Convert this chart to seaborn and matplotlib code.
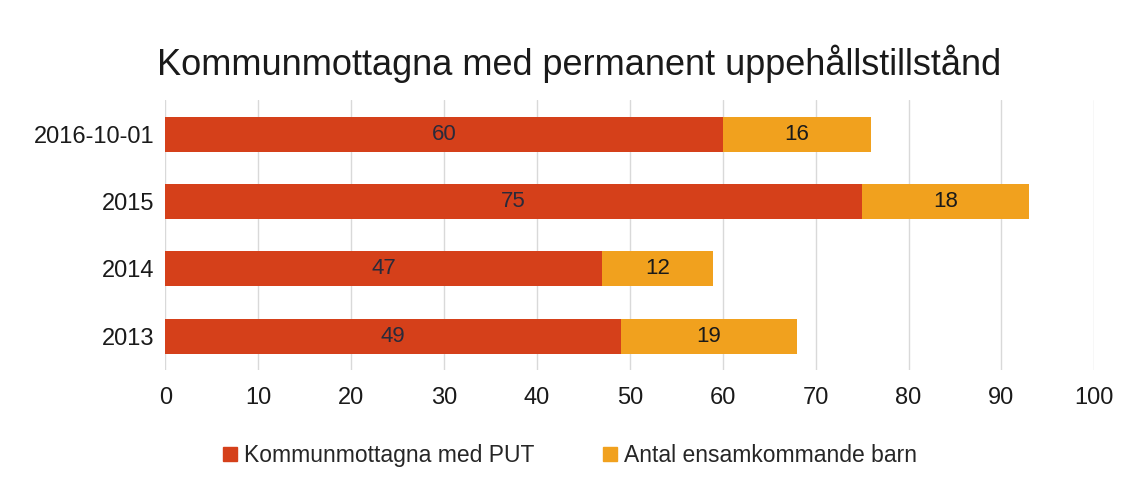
import pandas as pd
import numpy as np
import matplotlib
matplotlib.use('Agg')
import matplotlib.pyplot as plt
import seaborn as sns
from matplotlib.patches import Patch

years = ['2016-10-01', '2015', '2014', '2013']
put = [60, 75, 47, 49]
ensam = [16, 18, 12, 19]

red = '#D5401A'
orange = '#F1A11E'

df = pd.DataFrame({'year': years, 'put': put, 'ensam': ensam})
df['total'] = df['put'] + df['ensam']

sns.set_style('white')
plt.rcParams['font.family'] = ['Liberation Sans', 'DejaVu Sans']

fig = plt.figure(figsize=(11.4, 4.9), dpi=100)
ax = fig.add_axes([0.145, 0.245, 0.815, 0.55])

# stacked: total in orange, first series drawn on top in red
sns.barplot(data=df, x='total', y='year', orient='h', color=orange, width=0.52,
            saturation=1, linewidth=0, ax=ax, zorder=2)
sns.barplot(data=df, x='put', y='year', orient='h', color=red, width=0.52,
            saturation=1, linewidth=0, ax=ax, zorder=3)

for i, row in df.iterrows():
    ax.text(row['put'] / 2, i, str(row['put']), ha='center', va='center',
            fontsize=16, color='#2a2a3a', zorder=4)
    ax.text(row['put'] + row['ensam'] / 2, i, str(row['ensam']), ha='center',
            va='center', fontsize=16, color='#1a1a1a', zorder=4)

ax.set_xlim(0, 100)
ax.set_xticks(range(0, 101, 10))
ax.grid(axis='x', color='#d9d9d9', linewidth=1, zorder=0)
ax.set_axisbelow(True)
for s in ax.spines.values():
    s.set_visible(False)
ax.set_xlabel('')
ax.set_ylabel('')
ax.tick_params(axis='both', length=0, labelsize=17, colors='#1a1a1a')
ax.tick_params(axis='x', pad=12)
ax.tick_params(axis='y', pad=8)

fig.text(0.508, 0.87, 'Kommunmottagna med permanent uppehållstillstånd',
         ha='center', va='center', fontsize=26, color='#1a1a1a')

handles = [Patch(color=red, label='Kommunmottagna med PUT'),
           Patch(color=orange, label='Antal ensamkommande barn')]
fig.legend(handles=handles, loc='center', bbox_to_anchor=(0.5, 0.07), ncol=2,
           frameon=False, fontsize=16.5, handlelength=0.6, handleheight=0.6,
           handletextpad=0.3, columnspacing=3)

fig.savefig('out.png', dpi=100)
